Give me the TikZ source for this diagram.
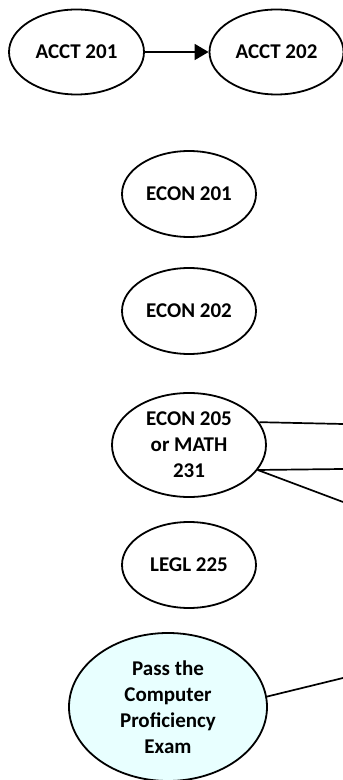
\documentclass[tikz,border=0pt]{standalone}
\usepackage{fontspec}
\setmainfont{Carlito}
\usetikzlibrary{arrows.meta,shapes.geometric}
\begin{document}
\begin{tikzpicture}[x=1pt,y=1pt,
  course/.style={ellipse,draw=black,line width=1.8pt,inner sep=0pt,align=center,
    font=\fontsize{21}{26}\selectfont\bfseries},
  link/.style={draw=black,line width=1.7pt}]
\useasboundingbox (0,0) rectangle (343,780);
\node[course,minimum width=135pt,minimum height=85pt] (a201) at (76.5,728) {ACCT 201};
\node[course,minimum width=134pt,minimum height=85pt] (a202) at (276.5,728) {ACCT 202};
\node[course,minimum width=134pt,minimum height=86pt] (e201) at (189,586) {ECON 201};
\node[course,minimum width=134pt,minimum height=86pt] (e202) at (189,469) {ECON 202};
\node[course,minimum width=154pt,minimum height=104pt] (e205) at (189,335) {ECON 205\\or MATH\\231};
\node[course,minimum width=134pt,minimum height=86pt] (l225) at (189,215) {LEGL 225};
\node[course,fill={rgb,255:red,232;green,255;blue,255},minimum width=198pt,minimum height=148pt] (pce) at (168,73) {Pass the\\Computer\\Proficiency\\Exam};
\coordinate (r1) at (343,356);
\coordinate (r2) at (343,311);
\coordinate (r3) at (343,278);
\coordinate (r4) at (343,102);
\draw[link,-{Triangle[length=14pt,width=16pt]}] (a201) -- (a202);
\draw[link] (e205.18) -- (r1);
\draw[link] (e205.-20) -- (r2);
\draw[link] (e205.-20) -- (r3);
\draw[link] (pce.6) -- (r4);
\end{tikzpicture}
\end{document}
